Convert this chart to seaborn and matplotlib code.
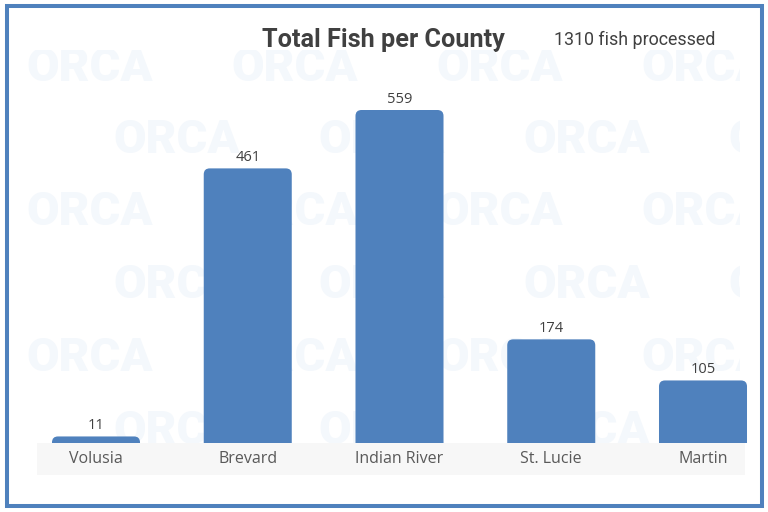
import matplotlib
matplotlib.use("Agg")
import matplotlib.pyplot as plt
import seaborn as sns
from matplotlib.path import Path
from matplotlib.patches import PathPatch, Rectangle

counties = ["Volusia", "Brevard", "Indian River", "St. Lucie", "Martin"]
fish = [11, 461, 559, 174, 105]
title = "Total Fish per County"
subtitle = "1310 fish processed"

BAR = "#4F81BD"
W, H = 768, 512

sns.set_theme(style="white")
plt.rcParams["font.family"] = ["Lato", "DejaVu Sans"]

fig = plt.figure(figsize=(W / 100, H / 100), dpi=100)
fig.patch.set_facecolor("white")

def px_axes(x0, y0, x1, y1, z):
    return fig.add_axes([x0 / W, (H - y1) / H, (x1 - x0) / W, (y1 - y0) / H], zorder=z)

# background axes in pixel coordinates
bg = px_axes(0, 0, W, H, 0)
bg.set_xlim(0, W); bg.set_ylim(H, 0); bg.axis("off")
bg.add_patch(Rectangle((7, 5.5), 755, 500.5, fill=False, lw=2.9, ec=BAR))
bg.text(383.5, 40, title, ha="center", va="center", fontsize=18.2, fontweight="bold",
        color="#404040", family=["Roboto", "DejaVu Sans"])
bg.text(634.5, 40, subtitle, ha="center", va="center", fontsize=12.9,
        color="#404040", family=["Roboto", "DejaVu Sans"])

# watermark + label band
wx0, wy0, wx1, wy1 = 20, 50, 740, 476
wm = px_axes(wx0, wy0, wx1, wy1, 1)
wm.set_xlim(wx0, wx1); wm.set_ylim(wy1, wy0); wm.axis("off")
rows = [68, 140, 212, 285, 358, 431]
for i, yy in enumerate(rows):
    xx = 90 if i % 2 == 0 else 177
    while xx < wx1 + 60:
        wm.text(xx, yy, "ORCA", ha="center", va="center", fontsize=34, fontweight="heavy",
                color="#F4F8FC", family=["Roboto", "DejaVu Sans"], clip_on=True, zorder=1)
        xx += 205
band = px_axes(37, 443, 745, 475, 1.5)
band.axis("off")
band.add_patch(Rectangle((0, 0), 1, 1, transform=band.transAxes, fc="#F7F7F7", ec="none"))

# main chart axes
ax = px_axes(20, 60, 760, 443, 2)
ax.patch.set_alpha(0)
sns.barplot(x=counties, y=fish, color=BAR, saturation=1, width=0.58, ax=ax)
spacing = 151.75
ax.set_xlim((20 - 96) / spacing, (760 - 96) / spacing)
ppy = 0.5957
ax.set_ylim(0, (443 - 60) / ppy)
ax.axis("off")

r = 6.0
rx = r / spacing
for p in list(ax.patches):
    x0 = p.get_x(); x1 = x0 + p.get_width(); h = p.get_height()
    ry = min(r / ppy, h)
    verts = [(x0, 0), (x0, h - ry), (x0, h), (x0 + rx, h), (x1 - rx, h),
             (x1, h), (x1, h - ry), (x1, 0), (x0, 0)]
    codes = [Path.MOVETO, Path.LINETO, Path.CURVE3, Path.CURVE3, Path.LINETO,
             Path.CURVE3, Path.CURVE3, Path.LINETO, Path.CLOSEPOLY]
    p.set_visible(False)
    ax.add_patch(PathPatch(Path(verts, codes), fc=BAR, ec="none", zorder=3))

for i, v in enumerate(fish):
    ax.annotate(str(v), (i, v), xytext=(0, 2.5), textcoords="offset points",
                ha="center", va="bottom", fontsize=10.5, color="#404040",
                family=["Open Sans", "DejaVu Sans"], annotation_clip=False)

for i, c in enumerate(counties):
    ax.annotate(c, (i, 0), xytext=(0, -11.5), textcoords="offset points",
                ha="center", va="center", fontsize=11.5, color="#595959",
                family=["Open Sans", "DejaVu Sans"], annotation_clip=False)

fig.savefig("out.png", dpi=100, facecolor="white")
